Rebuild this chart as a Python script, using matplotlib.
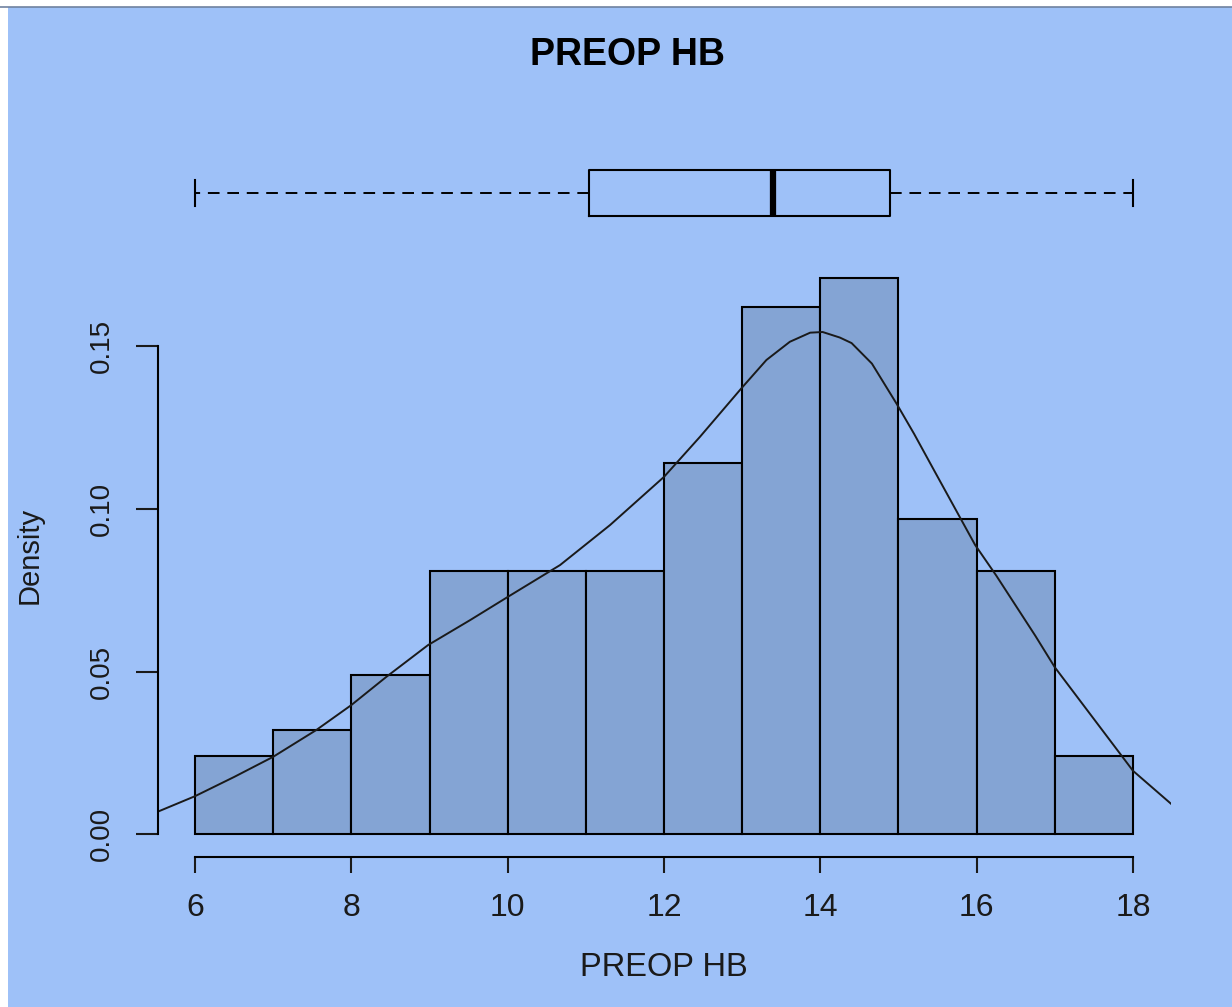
import matplotlib
matplotlib.use("Agg")
from matplotlib import pyplot as plt
from matplotlib.patches import Rectangle
from matplotlib.lines import Line2D

plt.rcParams["font.family"] = ["Liberation Sans", "DejaVu Sans"]

# histogram (density scale), bins of width 1
bin_edges = [6, 7, 8, 9, 10, 11, 12, 13, 14, 15, 16, 17, 18]
density = [0.024, 0.032, 0.049, 0.081, 0.081, 0.081, 0.114, 0.162, 0.171, 0.097, 0.081, 0.024]

# kernel density curve
kde_x = [5.52, 6.0, 6.5, 7.0, 7.55, 8.0, 8.45, 8.98, 9.52, 10.0, 10.67, 11.31, 12.0,
         12.46, 12.99, 13.31, 13.61, 13.87, 14.03, 14.25, 14.4, 14.66, 14.98, 15.2,
         15.46, 15.98, 16.25, 16.55, 16.75, 17.0, 17.5, 18.0, 18.49]
kde_y = [0.0069, 0.0117, 0.0176, 0.0238, 0.032, 0.0397, 0.0484, 0.0581, 0.0658, 0.0729,
         0.0827, 0.095, 0.1098, 0.1221, 0.137, 0.1457, 0.1513, 0.1541, 0.1543, 0.1526,
         0.1509, 0.1446, 0.1321, 0.123, 0.1116, 0.0889, 0.0795, 0.0684, 0.061, 0.0513,
         0.0354, 0.0195, 0.0093]

# boxplot summary
box_stats = {"whislo": 6.0, "q1": 11.04, "med": 13.39, "q3": 14.89, "whishi": 18.0}

x_ticks = [6, 8, 10, 12, 14, 16, 18]
y_ticks = [0.00, 0.05, 0.10, 0.15]
y_tick_labels = ["0.00", "0.05", "0.10", "0.15"]

bg = "#9ec1f8"
bar_col = "#84a4d4"

W, H = 1232, 1007
fig = plt.figure(figsize=(W / 100, H / 100), dpi=100, facecolor="white")
# blue panel (screenshot has a thin white strip on the top and left)
fig.patches.append(Rectangle((8 / W, 0), 1 - 8 / W, 1 - 7 / H, transform=fig.transFigure,
                             facecolor=bg, edgecolor="none", zorder=-10))
fig.lines.append(Line2D([0, 1], [1 - 6.5 / H, 1 - 6.5 / H], transform=fig.transFigure,
                        color="#6f82a0", lw=1.2))

# main histogram axes
ax = fig.add_axes([157.5 / W, (H - 856.5) / H, 1013 / W, 600 / H])
ax.set_facecolor("none")
ax.bar(bin_edges[:-1], density, width=1, align="edge", color=bar_col,
       edgecolor="black", linewidth=1.5)
ax.plot(kde_x, kde_y, color="#1a1a1a", lw=1.4, solid_joinstyle="round")
ax.set_xlim(5.52, 18.48)
ax.set_ylim(-0.00683, 0.1775)

for s in ["top", "right"]:
    ax.spines[s].set_visible(False)
ax.spines["left"].set_bounds(0, 0.15)
ax.spines["bottom"].set_bounds(6, 18)
ax.spines["left"].set_linewidth(1.5)
ax.spines["bottom"].set_linewidth(1.5)

ax.set_xticks(x_ticks)
ax.set_xticklabels([str(t) for t in x_ticks])
ax.set_yticks(y_ticks)
ax.set_yticklabels(y_tick_labels, rotation=90, va="center")
ax.tick_params(axis="x", length=11.5, width=1.5, pad=15, labelsize=23, colors="#1a1a1a")
ax.tick_params(axis="y", length=15.5, width=1.5, pad=15, labelsize=20, colors="#1a1a1a")

fig.text(664 / W, 1 - 967 / H, "PREOP HB", ha="center", va="center", fontsize=23.5,
         color="#1a1a1a")
fig.text(30 / W, 1 - 555 / H, "Density", ha="center", va="center", rotation=90,
         fontsize=21, color="#1a1a1a")
fig.text(628 / W, 1 - 55 / H, "PREOP HB", ha="center", va="center", fontsize=27,
         fontweight="bold", color="black")

# boxplot strip on top
bx = fig.add_axes([157.5 / W, (H - 256) / H, 1013 / W, 126 / H])
bx.set_facecolor("none")
bx.set_xlim(5.52, 18.48)
bx.set_ylim(0, 1)
stats = dict(box_stats, fliers=[])
bx.bxp([stats], positions=[0.5], widths=0.365, capwidths=0.214,
       orientation="horizontal", showfliers=False, manage_ticks=False,
       boxprops=dict(color="black", lw=1.5),
       whiskerprops=dict(color="black", lw=1.4, linestyle=(0, (6, 4))),
       capprops=dict(color="black", lw=1.5),
       medianprops=dict(color="black", lw=4.5, solid_capstyle="butt"))
bx.axis("off")

fig.savefig("out.png", dpi=100, facecolor=fig.get_facecolor())
